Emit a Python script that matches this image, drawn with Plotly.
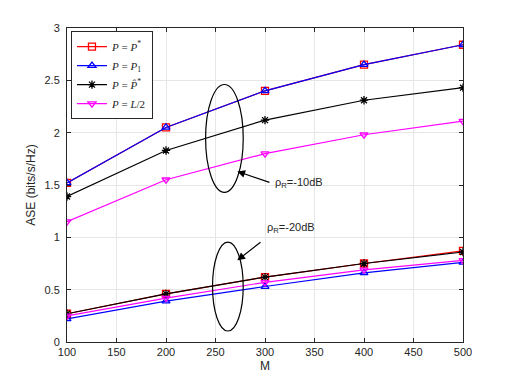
"""ASE vs M chart."""

import plotly.graph_objects as go

M = [100, 200, 300, 400, 500]

# rho_R = -10 dB
ase_opt_10 = [1.52, 2.05, 2.40, 2.65, 2.84]
ase_p1_10 = [1.52, 2.05, 2.40, 2.65, 2.84]
ase_hat_10 = [1.39, 1.83, 2.12, 2.31, 2.43]
ase_half_10 = [1.15, 1.55, 1.80, 1.98, 2.11]

# rho_R = -20 dB
ase_opt_20 = [0.27, 0.46, 0.62, 0.75, 0.87]
ase_p1_20 = [0.22, 0.39, 0.53, 0.66, 0.76]
ase_hat_20 = [0.27, 0.46, 0.62, 0.75, 0.86]
ase_half_20 = [0.25, 0.42, 0.57, 0.69, 0.78]

x_ticks = [100, 150, 200, 250, 300, 350, 400, 450, 500]
y_ticks = [0, 0.5, 1, 1.5, 2, 2.5, 3]

SERIES = [
    ("<i>P</i> = <i>P</i><sup>*</sup>", ase_opt_10, ase_opt_20, "#FF0000", "square-open"),
    ("<i>P</i> = <i>P</i><sub>1</sub>", ase_p1_10, ase_p1_20, "#0000FF", "triangle-up-open"),
    ("<i>P</i> = <i>P\u0302</i><sup>*</sup>", ase_hat_10, ase_hat_20, "#000000", "asterisk-open"),
    ("<i>P</i> = <i>L</i>/2", ase_half_10, ase_half_20, "#FF00FF", "triangle-down-open"),
]

fig = go.Figure()

for name, y10, y20, color, symbol in SERIES:
    for i, ys in enumerate((y10, y20)):
        fig.add_trace(
            go.Scatter(
                x=M,
                y=ys,
                mode="lines+markers",
                name=name,
                legendgroup=name,
                showlegend=(i == 0),
                line=dict(color=color, width=1.2),
                marker=dict(symbol=symbol, size=7, color=color, line=dict(width=1.3, color=color)),
            )
        )

# ellipses marking the two groups
fig.add_shape(type="circle", x0=240, x1=278, y0=1.43, y1=2.46,
              line=dict(color="black", width=1.2))
fig.add_shape(type="circle", x0=247, x1=278, y0=0.105, y1=0.955,
              line=dict(color="black", width=1.2))

fig.add_annotation(x=272, y=1.63, ax=306, ay=1.52, axref="x", ayref="y",
                   text="", showarrow=True, arrowhead=2, arrowsize=1.3,
                   arrowwidth=1.2, arrowcolor="black")
fig.add_annotation(x=308, y=1.52, text="\u03c1<sub>R</sub>=-10dB", showarrow=False,
                   xanchor="left", yanchor="middle", font=dict(size=11))
fig.add_annotation(x=272, y=0.78, ax=297, ay=0.965, axref="x", ayref="y",
                   text="", showarrow=True, arrowhead=2, arrowsize=1.3,
                   arrowwidth=1.2, arrowcolor="black")
fig.add_annotation(x=300, y=1.09, text="\u03c1<sub>R</sub>=-20dB", showarrow=False,
                   xanchor="left", yanchor="middle", font=dict(size=11))

axis_common = dict(
    showline=True,
    linecolor="#262626",
    linewidth=1,
    mirror="ticks",
    ticks="inside",
    ticklen=4,
    tickcolor="#262626",
    showgrid=True,
    gridcolor="#E6E6E6",
    zeroline=False,
    tickfont=dict(size=11, color="#262626"),
)

fig.update_xaxes(
    range=[100, 500],
    tickvals=x_ticks,
    title=dict(text="M", standoff=4, font=dict(size=12)),
    **axis_common,
)
fig.update_yaxes(
    range=[0, 3],
    tickvals=y_ticks,
    ticklabelstandoff=4,
    title=dict(text="ASE (bits/s/Hz)", standoff=6, font=dict(size=12)),
    **axis_common,
)

fig.update_layout(
    width=504,
    height=376,
    template="plotly_white",
    paper_bgcolor="white",
    plot_bgcolor="white",
    font=dict(family="Liberation Sans, Arial, sans-serif", size=11, color="#262626"),
    margin=dict(l=59, r=49, t=20, b=42),
    legend=dict(
        x=0.01,
        y=0.99,
        xanchor="left",
        yanchor="top",
        bgcolor="white",
        bordercolor="#262626",
        borderwidth=1,
        font=dict(family="Liberation Serif, Times New Roman, serif", size=11),
        tracegroupgap=0,
        itemwidth=30,
    ),
)

fig.write_html("out.html")
